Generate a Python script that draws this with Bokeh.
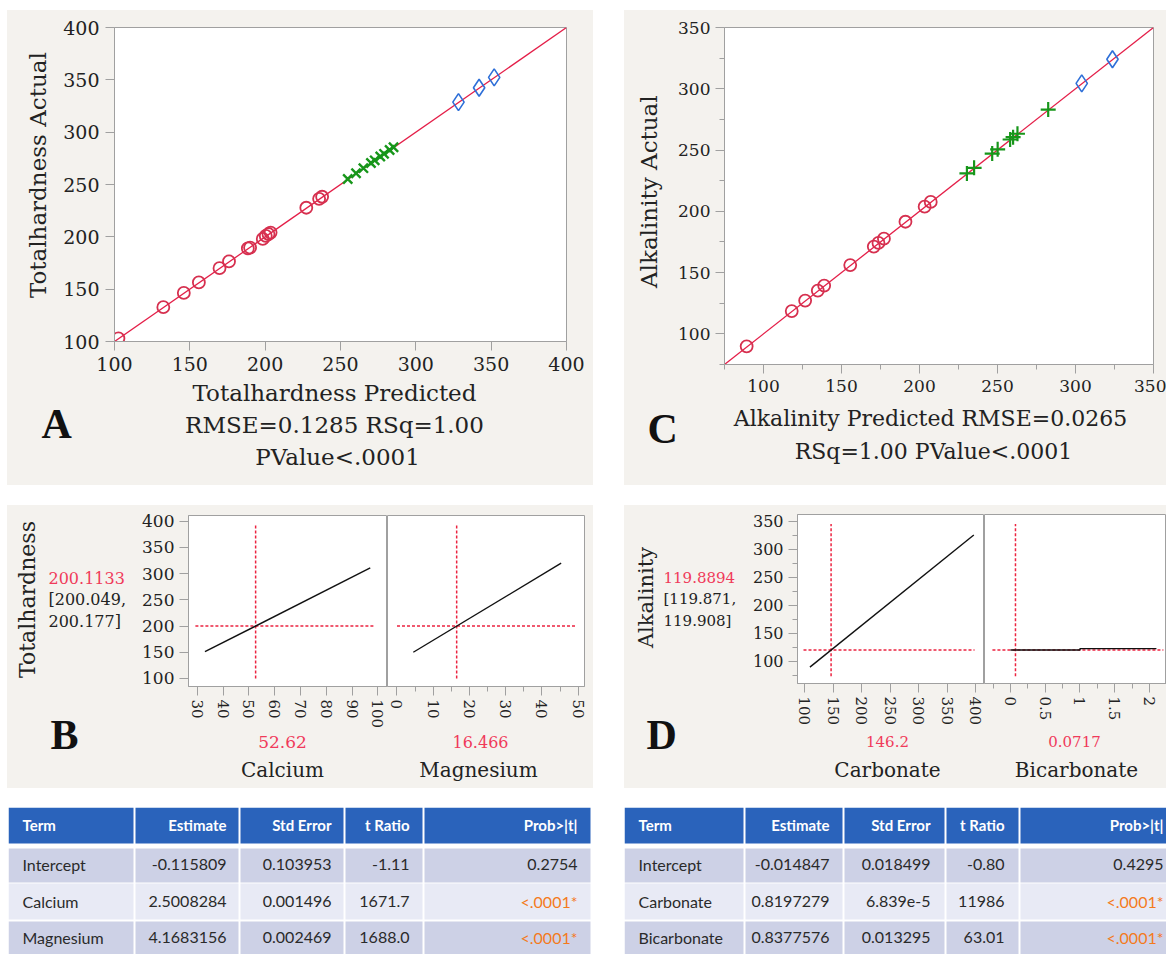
import math
from bokeh.plotting import figure
from bokeh.models import Range1d, FixedTicker, Spacer, NumeralTickFormatter
from bokeh.layouts import row, column
from bokeh.embed import file_html
from bokeh.resources import INLINE
from bokeh.core.properties import value

# ---------------- DATA ----------------
# Panel A: Totalhardness actual by predicted
th_circle_pred = [102.6, 132.4, 146.0, 156.0, 169.7, 176.0, 188.5, 190.0, 198.4, 200.4, 202.2, 203.6, 227.3, 235.8, 237.8]
th_circle_act = [103.0, 132.8, 146.4, 156.4, 170.1, 176.5, 188.9, 189.6, 198.0, 200.9, 202.7, 204.1, 227.8, 236.3, 238.3]
th_x_pred = [254.8, 260.3, 265.2, 270.2, 272.7, 276.4, 278.9, 282.6, 285.2]
th_x_act = [255.2, 260.7, 265.6, 270.6, 273.1, 276.8, 279.3, 283.0, 285.6]
th_diam_pred = [328.3, 342.0, 352.0]
th_diam_act = [328.7, 342.4, 352.4]
th_fit = [100, 400]
th_ticks = [100, 150, 200, 250, 300, 350, 400]

# Panel C: Alkalinity actual by predicted
alk_circle_pred = [89.2, 118.1, 126.7, 134.8, 138.9, 155.6, 170.7, 173.7, 177.2, 191.0, 203.3, 207.2]
alk_circle_act = [89.8, 118.6, 127.2, 135.3, 139.4, 156.1, 171.2, 174.2, 177.7, 191.5, 203.8, 207.7]
alk_plus_pred = [230.4, 235.0, 246.6, 250.1, 258.1, 260.0, 262.8, 282.5]
alk_plus_act = [230.9, 235.5, 247.1, 250.6, 258.6, 260.5, 263.3, 283.0]
alk_diam_pred = [304.0, 323.7]
alk_diam_act = [304.4, 324.1]
alk_fit = [75, 350]
alk_ticks = [100, 150, 200, 250, 300, 350]
alk_minor = [75, 125, 175, 225, 275, 325]

# Panel B: prediction profiler (Totalhardness)
calcium_x = [33.0, 97.0]
calcium_th = [151.0, 311.0]
magnesium_x = [4.5, 45.3]
magnesium_th = [150.0, 320.0]
th_pred_value = 200.1133
th_ci = ["[200.049,", "200.177]"]
calcium_value = 52.62
magnesium_value = 16.466
b_cross_y = [100, 391.8]
ca_cross_x = [29.3, 98.9]
mg_cross_x = [0.0, 49.3]
b_yticks = [100, 150, 200, 250, 300, 350, 400]
ca_ticks = [30, 40, 50, 60, 70, 80, 90, 100]
mg_ticks = [0, 10, 20, 30, 40, 50]
mg_minor = [5, 15, 25, 35, 45]

# Panel D: prediction profiler (Alkalinity)
carbonate_x = [109.0, 397.0]
carbonate_alk = [89.4, 325.4]
bicarbonate_x = [0.0, 1.0, 1.0, 2.1]
bicarbonate_alk = [119.9, 119.9, 122.5, 122.5]
alk_pred_value = 119.8894
alk_ci = ["[119.871,", "119.908]"]
carbonate_value = 146.2
bicarbonate_value = 0.0717
d_cross_y = [73, 345]
co3_cross_x = [97.7, 398.3]
hco3_cross_x = [-0.26, 2.2]
d_yticks = [100, 150, 200, 250, 300, 350]
d_yminor = [75, 125, 175, 225, 275, 325]
co3_ticks = [100, 150, 200, 250, 300, 350, 400]
hco3_ticks = [0, 0.5, 1, 1.5, 2]
hco3_minor = [-0.25, 0.25, 0.75, 1.25, 1.75]

# Parameter estimate tables
table_header = ["Term", "Estimate", "Std Error", "t Ratio", "Prob>|t|"]
t1_term = ["Intercept", "Calcium", "Magnesium"]
t1_est = ["-0.115809", "2.5008284", "4.1683156"]
t1_se = ["0.103953", "0.001496", "0.002469"]
t1_t = ["-1.11", "1671.7", "1688.0"]
t1_p = ["0.2754", "<.0001*", "<.0001*"]
t2_term = ["Intercept", "Carbonate", "Bicarbonate"]
t2_est = ["-0.014847", "0.8197279", "0.8377576"]
t2_se = ["0.018499", "6.839e-5", "0.013295"]
t2_t = ["-0.80", "11986", "63.01"]
t2_p = ["0.4295", "<.0001*", "<.0001*"]

# ---------------- STYLE ----------------
BEIGE = "#f4f2ee"
FRAME = "#a0a0a0"
PT_RED = "#d6304f"
LINE_RED = "#e41e48"
BLUE = "#2e6fd8"
GREEN = "#17961a"
TXT_RED = "#f03a5a"
DASH_RED = "#ec2340"
TXT = "#222222"
SERIF = "DejaVu Serif"
LETTER = "Liberation Serif"
VERT = math.pi / 2
PANEL_BG = {"background-color": BEIGE}


def mkfig(w, h, bl, br, bt, bb, xr, yr, yaxis=True):
    p = figure(width=w, height=h, x_range=Range1d(*xr), y_range=Range1d(*yr),
               min_border_left=bl, min_border_right=br, min_border_top=bt, min_border_bottom=bb,
               output_backend="svg", toolbar_location=None,
               y_axis_location="left" if yaxis else None,
               background_fill_color="white", border_fill_color=BEIGE,
               outline_line_color=FRAME, outline_line_width=1)
    p.xgrid.visible = False
    p.ygrid.visible = False
    return p


def txtfig(w, h):
    p = figure(width=w, height=h, x_range=Range1d(0, w), y_range=Range1d(h, 0),
               min_border=0, output_backend="svg", toolbar_location=None,
               x_axis_location=None, y_axis_location=None,
               background_fill_color=BEIGE, border_fill_color=BEIGE, outline_line_color=None)
    p.xgrid.visible = False
    p.ygrid.visible = False
    return p


def put(p, x, y, text, size, color=TXT, font=SERIF, style="normal", align="center",
        baseline="alphabetic", angle=0.0):
    p.text(x=[x], y=[y], text=[text], text_font=value(font), text_font_size=f"{size}px",
           text_color=color, text_font_style=style, text_align=align,
           text_baseline=baseline, angle=angle)


def style_axis(ax, fs, ticks, minor=None, vertical=False, standoff=6):
    ax.ticker = FixedTicker(ticks=ticks, minor_ticks=minor or [])
    ax.axis_line_color = FRAME
    ax.major_tick_line_color = FRAME
    ax.minor_tick_line_color = FRAME
    ax.major_tick_out = 9
    ax.major_tick_in = 0
    ax.minor_tick_out = 5
    ax.minor_tick_in = 0
    ax.major_label_text_font = SERIF
    ax.major_label_text_font_size = f"{fs}px"
    ax.major_label_text_color = TXT
    ax.major_label_standoff = standoff
    if vertical:
        ax.major_label_orientation = "vertical"


# ---------------- PANEL A ----------------
pA = mkfig(538, 370, 59, 27, 17, 39, (100, 400), (100, 400))
style_axis(pA.xaxis[0], 19, th_ticks)
style_axis(pA.yaxis[0], 19, th_ticks)
pA.line(th_fit, th_fit, line_color=LINE_RED, line_width=1.3)
pA.scatter(th_circle_pred, th_circle_act, marker="circle", size=12, fill_color=None,
           line_color=PT_RED, line_width=1.8)
pA.scatter(th_x_pred, th_x_act, marker="x", size=13, line_color=GREEN, line_width=2.4)
pA.scatter(th_diam_pred, th_diam_act, marker="diamond", size=17, fill_color=None,
           line_color=BLUE, line_width=1.6)
tAL = txtfig(48, 370)
put(tAL, 30, 174, "Totalhardness Actual", 23, baseline="middle", angle=VERT)
tAB = txtfig(586, 105)
put(tAB, 327, 12, "Totalhardness Predicted", 23)
put(tAB, 327, 44, "RMSE=0.1285 RSq=1.00", 23)
put(tAB, 330, 76, "PValue<.0001", 23)
put(tAB, 34, 43, "A", 42, color="#111111", font=LETTER, style="bold", align="left")
panelA = column(row(tAL, pA), tAB, styles=PANEL_BG)

# ---------------- PANEL C ----------------
pC = mkfig(494, 390, 52, 13, 17, 36, (75, 350), (75, 350))
style_axis(pC.xaxis[0], 17, alk_ticks, alk_minor)
style_axis(pC.yaxis[0], 17, alk_ticks, alk_minor, standoff=5)
pC.line(alk_fit, alk_fit, line_color=LINE_RED, line_width=1.3)
pC.scatter(alk_circle_pred, alk_circle_act, marker="circle", size=12, fill_color=None,
           line_color=PT_RED, line_width=1.8)
pC.scatter(alk_plus_pred, alk_plus_act, marker="cross", size=15, line_color=GREEN, line_width=2.2)
pC.scatter(alk_diam_pred, alk_diam_act, marker="diamond", size=17, fill_color=None,
           line_color=BLUE, line_width=1.6)
tCL = txtfig(48, 390)
put(tCL, 24, 190, "Alkalinity Actual", 23, baseline="middle", angle=VERT)
tCB = txtfig(542, 85)
put(tCB, 306, 18, "Alkalinity Predicted RMSE=0.0265", 22)
put(tCB, 309, 51, "RSq=1.00 PValue<.0001", 22)
put(tCB, 23, 28, "C", 42, color="#111111", font=LETTER, style="bold", align="left")
panelC = column(row(tCL, pC), tCB, styles=PANEL_BG)

# ---------------- PANEL B ----------------
B_YR = (84.7, 410.9)
pB1 = mkfig(257, 226, 58, 0, 10, 45, (26.63, 103.68), B_YR)
pB2 = mkfig(206, 226, 0, 9, 10, 45, (-2.62, 51.74), B_YR, yaxis=False)
style_axis(pB1.yaxis[0], 17, b_yticks, standoff=5)
style_axis(pB1.xaxis[0], 15, ca_ticks, vertical=True, standoff=4)
style_axis(pB2.xaxis[0], 15, mg_ticks, mg_minor, vertical=True, standoff=4)
for p, xs, ys, cx, cv in ((pB1, calcium_x, calcium_th, ca_cross_x, calcium_value),
                          (pB2, magnesium_x, magnesium_th, mg_cross_x, magnesium_value)):
    p.line([cv, cv], b_cross_y, line_color=DASH_RED, line_width=1.5, line_dash="3 2")
    p.line(cx, [th_pred_value, th_pred_value], line_color=DASH_RED, line_width=1.5, line_dash="3 2")
    p.line(xs, ys, line_color="#111111", line_width=1.4)
tBL = txtfig(123, 283)
put(tBL, 20, 94, "Totalhardness", 22, baseline="middle", angle=VERT)
put(tBL, 41, 72, f"{th_pred_value:.4f}", 16, color=TXT_RED, align="left")
put(tBL, 41, 94, th_ci[0], 16, align="left")
put(tBL, 41, 116, th_ci[1], 16, align="left")
put(tBL, 43, 229, "B", 42, color="#111111", font=LETTER, style="bold", align="left")
tBB = txtfig(463, 57)
put(tBB, 152, 10, f"{calcium_value}", 17, color=TXT_RED)
put(tBB, 152, 38, "Calcium", 20)
put(tBB, 350, 10, f"{magnesium_value}", 16, color=TXT_RED)
put(tBB, 348, 38, "Magnesium", 20)
panelB = row(tBL, column(row(pB1, pB2), tBB), styles=PANEL_BG)

# ---------------- PANEL D ----------------
D_YR = (60.2, 362.0)
pD1 = mkfig(241, 226, 54, 0, 9, 48, (87.17, 415.8), D_YR)
pD2 = mkfig(182, 226, 0, 0, 9, 48, (-0.374, 2.245), D_YR, yaxis=False)
style_axis(pD1.yaxis[0], 16, d_yticks, d_yminor, standoff=5)
style_axis(pD1.xaxis[0], 15, co3_ticks, vertical=True, standoff=4)
style_axis(pD2.xaxis[0], 15, hco3_ticks, hco3_minor, vertical=True, standoff=4)
pD2.xaxis[0].formatter = NumeralTickFormatter(format="0.[0]")
for p, xs, ys, cx, cv in ((pD1, carbonate_x, carbonate_alk, co3_cross_x, carbonate_value),
                          (pD2, bicarbonate_x, bicarbonate_alk, hco3_cross_x, bicarbonate_value)):
    p.line([cv, cv], d_cross_y, line_color=DASH_RED, line_width=1.5, line_dash="3 2")
    p.line(cx, [alk_pred_value, alk_pred_value], line_color=DASH_RED, line_width=1.5, line_dash="3 2")
    p.line(xs, ys, line_color="#111111", line_width=1.4)
tDL = txtfig(119, 283)
put(tDL, 21, 92, "Alkalinity", 21, baseline="middle", angle=VERT)
put(tDL, 39, 72, f"{alk_pred_value:.4f}", 15, color=TXT_RED, align="left")
put(tDL, 39, 93, alk_ci[0], 15, align="left")
put(tDL, 39, 115, alk_ci[1], 15, align="left")
put(tDL, 22, 229, "D", 42, color="#111111", font=LETTER, style="bold", align="left")
tDB = txtfig(423, 57)
put(tDB, 144, 10, f"{carbonate_value}", 15, color=TXT_RED)
put(tDB, 144, 38, "Carbonate", 20)
put(tDB, 331, 10, f"{bicarbonate_value}", 15, color=TXT_RED)
put(tDB, 333, 38, "Bicarbonate", 20)
panelD = row(tDL, column(row(pD1, pD2), tDB), styles=PANEL_BG)

# ---------------- TABLES ----------------
HDR_BLUE = "#2a63bb"
ROW_DARK = "#cdd1e6"
ROW_LIGHT = "#e8eaf5"
ORANGE = "#f47a1c"
ROW_BANDS = [(0, 36), (41, 75), (76, 112), (114, 147)]


def mktable(w, edges, terms, est, se, tr, pv, text_pos):
    p = figure(width=w, height=147, x_range=Range1d(0, w), y_range=Range1d(147, 0),
               min_border=0, output_backend="svg", toolbar_location=None,
               x_axis_location=None, y_axis_location=None,
               background_fill_color="white", border_fill_color="white", outline_line_color=None)
    p.xgrid.visible = False
    p.ygrid.visible = False
    lefts, rights, tops, bots, cols = [], [], [], [], []
    for r, (t, b) in enumerate(ROW_BANDS):
        for c in range(5):
            lefts.append(edges[c] + (1 if c > 0 else 0))
            rights.append(edges[c + 1] - 1)
            tops.append(t)
            bots.append(b)
            cols.append(HDR_BLUE if r == 0 else (ROW_DARK if r % 2 == 1 else ROW_LIGHT))
    p.quad(left=lefts, right=rights, top=tops, bottom=bots, fill_color=cols, line_color=None)
    ycent = [17, 57, 93.5, 130]
    aligns = ["left", "right", "right", "right", "right"]
    for c in range(5):
        p.text(x=[text_pos[c]], y=[ycent[0]], text=[table_header[c]], text_font=value("Lato"),
               text_font_style="bold", text_font_size="15px", text_color="white",
               text_align=aligns[c], text_baseline="middle")
    columns = [terms, est, se, tr]
    for c in range(4):
        p.text(x=[text_pos[c]] * 3, y=ycent[1:], text=columns[c], text_font=value("Lato"),
               text_font_size="16px", text_color="#2a2a2a", text_align=aligns[c],
               text_baseline="middle")
    pcol = [ORANGE if s.startswith("<") else "#2a2a2a" for s in pv]
    p.text(x=[text_pos[4]] * 3, y=ycent[1:], text=pv, text_font=value("Lato"),
           text_font_size="16px", text_color=pcol, text_align="right", text_baseline="middle")
    return p


tL = mktable(583, [0, 126, 231, 336, 415, 583], t1_term, t1_est, t1_se, t1_t, t1_p,
             [14, 218, 323, 401, 569])
tR = mktable(542, [0, 120, 219, 321, 395, 546], t2_term, t2_est, t2_se, t2_t, t2_p,
             [14, 205, 306, 380, 539])

layout = column(
    Spacer(width=1166, height=10),
    row(Spacer(width=7, height=475), panelA, Spacer(width=31, height=475), panelC),
    Spacer(width=1166, height=20),
    row(Spacer(width=7, height=283), panelB, Spacer(width=31, height=283), panelD),
    Spacer(width=1166, height=19),
    row(Spacer(width=8, height=147), tL, Spacer(width=33, height=147), tR),
)

open("out.html", "w").write(file_html(layout, INLINE))
